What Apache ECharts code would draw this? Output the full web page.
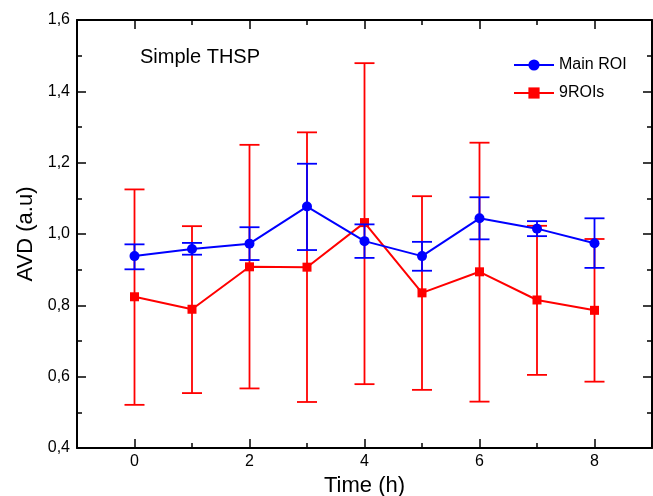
<!DOCTYPE html>
<html>
<head>
<meta charset="utf-8">
<script src="https://cdn.jsdelivr.net/npm/echarts@6/dist/echarts.min.js"></script>
<style>html,body{margin:0;padding:0;background:#fff}#c{width:653px;height:496px}</style>
</head>
<body>
<div id="c"></div>
<script>
var times = [0, 1, 2, 3, 4, 5, 6, 7, 8];
var mainMean = [0.938, 0.958, 0.973, 1.077, 0.980, 0.938, 1.044, 1.015, 0.974];
var mainHigh = [0.971, 0.975, 1.019, 1.197, 1.027, 0.978, 1.103, 1.036, 1.044];
var mainLow  = [0.901, 0.942, 0.927, 0.955, 0.933, 0.897, 0.985, 0.994, 0.905];
var roiMean = [0.824, 0.789, 0.908, 0.907, 1.032, 0.835, 0.894, 0.815, 0.786];
var roiHigh = [1.125, 1.022, 1.250, 1.285, 1.479, 1.106, 1.256, 1.023, 0.986];
var roiLow  = [0.521, 0.554, 0.567, 0.529, 0.579, 0.563, 0.530, 0.605, 0.586];
var xMajorTicks = [0, 2, 4, 6, 8];

var FONT = "'Liberation Sans', Arial, sans-serif";

function pts(m) { return times.map(function (t, i) { return [t, m[i]]; }); }
function errData(lo, hi) { return times.map(function (t, i) { return [t, lo[i], hi[i]]; }); }
function errRender(color) {
  return function (params, api) {
    var x = api.value(0);
    var lo = api.coord([x, api.value(1)]);
    var hi = api.coord([x, api.value(2)]);
    var w = 10;
    var st = { stroke: color, lineWidth: 1.8 };
    return { type: 'group', children: [
      { type: 'line', shape: { x1: lo[0], y1: lo[1], x2: hi[0], y2: hi[1] }, style: st },
      { type: 'line', shape: { x1: lo[0] - w, y1: lo[1], x2: lo[0] + w, y2: lo[1] }, style: st },
      { type: 'line', shape: { x1: hi[0] - w, y1: hi[1], x2: hi[0] + w, y2: hi[1] }, style: st }
    ] };
  };
}

var axLine = { show: true, onZero: false, lineStyle: { color: '#000', width: 2 } };
var noLine = { show: false, onZero: false };
var chart = echarts.init(document.getElementById('c'), null, { renderer: 'canvas' });
chart.setOption({
  backgroundColor: '#fff',
  animation: false,
  textStyle: { fontFamily: FONT },
  grid: [
    { left: 77, right: 1, top: 20, bottom: 48, containLabel: false, outerBoundsMode: 'none' },
    { left: 77, right: 1, top: 20, bottom: 48, containLabel: false, outerBoundsMode: 'none' }
  ],
  xAxis: [
    { gridIndex: 0, type: 'value', position: 'bottom', min: -1, max: 9, interval: 1,
      axisLine: axLine, axisTick: { inside: true, length: 5, lineStyle: { color: '#000', width: 1.5 } },
      axisLabel: { show: false }, splitLine: { show: false } },
    { gridIndex: 0, type: 'value', position: 'top', min: -1, max: 9, interval: 1,
      axisLine: axLine, axisTick: { inside: true, length: 5, lineStyle: { color: '#000', width: 1.5 } },
      axisLabel: { show: false }, splitLine: { show: false } },
    { gridIndex: 1, type: 'value', position: 'bottom', min: -1, max: 9, interval: 1,
      axisLine: noLine,
      axisTick: { inside: true, length: 9, customValues: xMajorTicks, lineStyle: { color: '#000', width: 1.5 } },
      axisLabel: { customValues: xMajorTicks, color: '#000', fontSize: 16, margin: 6, fontFamily: FONT },
      splitLine: { show: false },
      name: 'Time (h)', nameLocation: 'middle', nameGap: 26,
      nameTextStyle: { color: '#000', fontSize: 22, fontFamily: FONT } },
    { gridIndex: 1, type: 'value', position: 'top', min: -1, max: 9, interval: 1,
      axisLine: noLine,
      axisTick: { inside: true, length: 9, customValues: xMajorTicks, lineStyle: { color: '#000', width: 1.5 } },
      axisLabel: { show: false }, splitLine: { show: false } }
  ],
  yAxis: [
    { gridIndex: 0, type: 'value', position: 'left', min: 0.4, max: 1.6, interval: 0.2,
      axisLine: axLine,
      axisTick: { inside: true, length: 9, lineStyle: { color: '#000', width: 1.5 } },
      minorTick: { show: true, splitNumber: 2, length: 5, lineStyle: { color: '#000', width: 1.5 } },
      axisLabel: { color: '#000', fontSize: 16, margin: 7, fontFamily: FONT,
        formatter: function (v) { return v.toFixed(1).replace('.', ','); } },
      splitLine: { show: false },
      name: 'AVD (a.u)', nameLocation: 'middle', nameGap: 40,
      nameTextStyle: { color: '#000', fontSize: 22, fontFamily: FONT } },
    { gridIndex: 0, type: 'value', position: 'right', min: 0.4, max: 1.6, interval: 0.2,
      axisLine: axLine,
      axisTick: { inside: true, length: 9, lineStyle: { color: '#000', width: 1.5 } },
      minorTick: { show: true, splitNumber: 2, length: 5, lineStyle: { color: '#000', width: 1.5 } },
      axisLabel: { show: false }, splitLine: { show: false } },
    { gridIndex: 1, type: 'value', show: false, min: 0.4, max: 1.6, axisLine: noLine }
  ],
  legend: {
    orient: 'vertical', left: 513, top: 57, padding: 0,
    itemWidth: 40, itemHeight: 14, itemGap: 12,
    data: ['Main ROI', '9ROIs'],
    textStyle: { color: '#000', fontSize: 16, lineHeight: 16, fontFamily: FONT }
  },
  graphic: [
    { type: 'text', left: 140, top: 47,
      style: { text: 'Simple THSP', fill: '#000', font: '20px ' + FONT } }
  ],
  series: [
    { type: 'custom', name: '9ROIs err', xAxisIndex: 0, yAxisIndex: 0,
      data: errData(roiLow, roiHigh), renderItem: errRender('#ff0000'), z: 2 },
    { type: 'line', name: '9ROIs', xAxisIndex: 0, yAxisIndex: 0, data: pts(roiMean),
      color: '#ff0000', symbol: 'rect', symbolSize: 9,
      lineStyle: { color: '#ff0000', width: 2 }, itemStyle: { color: '#ff0000' }, z: 3 },
    { type: 'custom', name: 'Main ROI err', xAxisIndex: 0, yAxisIndex: 0,
      data: errData(mainLow, mainHigh), renderItem: errRender('#0000ff'), z: 4 },
    { type: 'line', name: 'Main ROI', xAxisIndex: 0, yAxisIndex: 0, data: pts(mainMean),
      color: '#0000ff', symbol: 'circle', symbolSize: 10,
      lineStyle: { color: '#0000ff', width: 2 }, itemStyle: { color: '#0000ff' }, z: 5 }
  ]
});
</script>
</body>
</html>
